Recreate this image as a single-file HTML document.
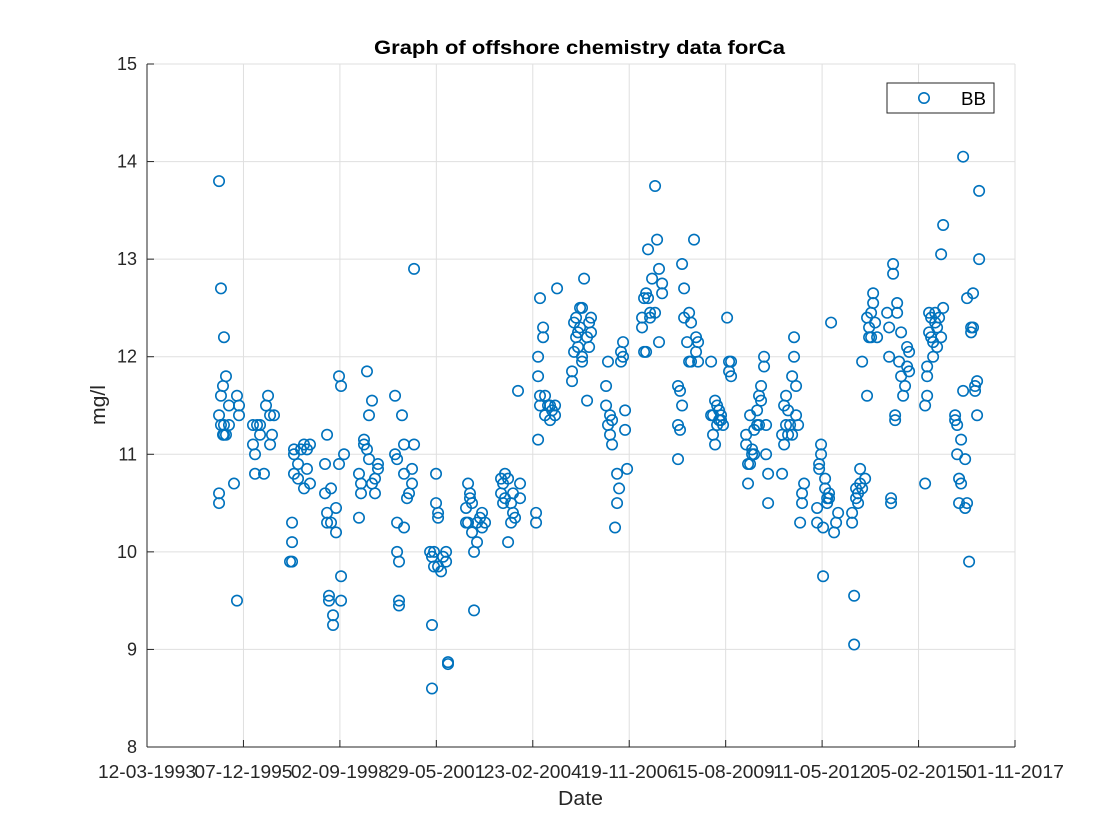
<!DOCTYPE html>
<html><head><meta charset="utf-8">
<style>
html,body{margin:0;padding:0;background:#fff;}
svg{display:block;font-family:"Liberation Sans",Arial,sans-serif;}
</style></head>
<body>
<svg id="chart" width="1120" height="840" viewBox="0 0 1120 840">
  <rect x="0" y="0" width="1120" height="840" fill="#fff"/>
  <rect x="147" y="64" width="868" height="683" fill="#fff"/>
  <g id="grid"></g>
  <g id="axes"></g>
  <g id="marks"></g>
  <text x="374" y="54" font-size="19" font-weight="bold" fill="#000" textLength="411" lengthAdjust="spacingAndGlyphs">Graph of offshore chemistry data forCa</text>
  <text x="558" y="805" font-size="20" fill="#262626" textLength="45" lengthAdjust="spacingAndGlyphs">Date</text>
  <text transform="translate(105,425) rotate(-90)" font-size="20" fill="#262626" textLength="40" lengthAdjust="spacingAndGlyphs">mg/l</text>
  <g>
    <rect x="887" y="83" width="107" height="30" fill="#fff" stroke="#262626" stroke-width="1"/>
    <circle cx="924" cy="98" r="5.2" fill="none" stroke="#0072BD" stroke-width="1.6"/>
    <text x="961" y="105" font-size="18" fill="#000" textLength="25" lengthAdjust="spacingAndGlyphs">BB</text>
  </g>
</svg>
<script>
// Days since 12-03-1993 for each sample
const sampleDays = [
747,747,747,747,767,767,767,788,788,798,798,798,819,819,850,850,902,933,933,954,954,
1099,1099,1120,1120,1141,1172,1172,1213,1234,1255,1276,1276,1296,1317,
1483,1504,1504,1504,1524,1524,1524,1566,1566,1597,1628,1628,1659,1659,1690,1690,
1846,1846,1867,1867,1867,1887,1887,1908,1908,1929,1929,1960,1960,1991,1991,2012,2012,2012,2043,
2198,2198,2219,2219,2250,2250,2281,2281,2302,2302,2333,2333,2364,2364,2395,2395,
2572,2572,2593,2593,2593,2613,2613,2613,2644,2665,2665,2665,2696,2717,2748,2748,2769,2769,
2935,2955,2955,2955,2976,2976,2997,2997,3018,3018,3018,3049,3070,3101,3101,3121,3121,
3308,3308,3329,3329,3349,3349,3370,3370,3391,3391,3422,3422,3453,3474,3474,3505,
3671,3671,3692,3692,3712,3712,3744,3744,3775,3775,3795,3795,3816,3847,3868,3868,
4034,4034,4055,4055,4055,4075,4075,4075,4107,4107,4127,4127,4158,4179,4179,4200,4231,4231,4252,
4407,4407,4428,4428,4449,4449,4469,4469,4490,4490,4511,4511,4511,4532,4563,4563,4584,4584,4604,4604,
4760,4760,4780,4780,4801,4801,4822,4822,4853,4874,4874,4895,4915,4915,4936,4936,4957,4957,4978,
5133,5133,5154,5154,5175,5175,5195,5195,5216,5216,5237,5268,5268,5289,5309,5309,5341,5341,
5506,5506,5506,5527,5527,5548,5548,5569,5569,5600,5621,5621,5641,5641,5672,5693,5693,5714,5714,
5849,5849,5869,5869,5890,5890,5911,5911,5932,5932,5952,5952,5973,6015,6035,6035,6056,6056,
6212,6212,6232,6232,6253,6253,6274,6274,6295,6295,6326,6326,6346,6346,6367,6367,6398,6398,6419,6419,6440,6440,
6585,6585,6606,6606,6626,6626,6647,6647,6668,6689,6689,6709,6709,6730,6730,6751,6772,6792,6792,6813,
6948,6948,6969,6969,6989,6989,7010,7010,7031,7031,7052,7052,7072,7072,7093,7124,7145,7166,
7311,7311,7332,7332,7352,7352,7373,7373,7394,7394,7415,7415,7446,7466,7466,7487,7487,7508,7508,7529,7529,7549,7570,
7674,7695,7695,7715,7715,7736,7736,7757,7757,7778,7778,7798,7819,7819,7840,7860,7881,7881,7902,7902,
8068,8068,8089,8089,8089,8109,8109,8130,8130,8151,8151,8172,8172,8192,8192,8213,8234,8234,8255,8255,
8379,8379,8400,8400,8420,8420,8441,8441,8462,8462,8483,8483,8503,8503,8524,8545,8545,8565,8565,8586,8586,8607,8607,8628,8628
];
// Ca concentration (mg/l)
const caValues = [
13.8,10.5,10.6,11.4,12.7,11.6,11.3,11.7,11.2,12.2,11.3,11.2,11.8,11.2,11.3,11.5,10.7,11.6,9.5,11.5,11.4,
11.1,11.3,11.0,10.8,11.3,11.3,11.2,10.8,11.5,11.6,11.4,11.1,11.2,11.4,
9.9,10.1,10.3,9.9,11.05,11.0,10.8,10.9,10.75,11.05,11.1,10.65,11.05,10.85,11.1,10.7,
10.6,10.9,11.2,10.4,10.3,9.55,9.5,10.65,10.3,9.35,9.25,10.45,10.2,11.8,10.9,11.7,9.75,9.5,11.0,
10.8,10.35,10.7,10.6,11.1,11.15,11.85,11.05,11.4,10.95,11.55,10.7,10.6,10.75,10.9,10.85,
11.6,11.0,10.3,10.95,10.0,9.5,9.45,9.9,11.4,10.25,11.1,10.8,10.55,10.6,10.85,10.7,12.9,11.1,
10.0,9.95,9.25,8.6,9.85,10.0,10.8,10.5,9.85,10.35,10.4,9.8,9.95,9.9,10.0,8.85,8.87,
10.3,10.45,10.7,10.3,10.55,10.6,10.5,10.2,9.4,10.0,10.3,10.1,10.35,10.4,10.25,10.3,
10.75,10.6,10.7,10.5,10.8,10.55,10.75,10.1,10.3,10.5,10.6,10.4,10.35,11.65,10.7,10.55,
10.4,10.3,12.0,11.8,11.15,12.6,11.6,11.5,12.2,12.3,11.6,11.4,11.5,11.5,11.35,11.45,11.5,11.4,12.7,
11.75,11.85,12.35,12.05,12.4,12.2,12.25,12.1,12.3,12.5,12.5,12.0,11.95,12.8,12.2,11.55,12.35,12.1,12.4,12.25,
11.7,11.5,11.95,11.3,11.4,11.2,11.35,11.1,10.25,10.8,10.5,10.65,12.05,11.95,12.15,12.0,11.45,11.25,10.85,
12.4,12.3,12.6,12.05,12.65,12.05,13.1,12.6,12.45,12.4,12.8,13.75,12.45,13.2,12.9,12.15,12.75,12.65,
11.7,11.3,10.95,11.65,11.25,12.95,11.5,12.7,12.4,12.15,12.45,11.95,12.35,11.95,13.2,12.2,12.05,12.15,11.95,
11.95,11.4,11.4,11.2,11.55,11.1,11.5,11.3,11.45,11.35,11.4,11.35,11.3,12.4,11.95,11.85,11.95,11.8,
11.2,11.1,10.7,10.9,11.4,10.9,11.05,11.0,11.25,11.0,11.45,11.3,11.6,11.3,11.7,11.55,12.0,11.9,11.3,11.0,10.8,10.5,
11.2,10.8,11.5,11.1,11.6,11.3,11.45,11.2,11.3,11.8,11.2,12.2,12.0,11.7,11.4,11.3,10.3,10.6,10.5,10.7,
10.45,10.3,10.9,10.85,11.1,11.0,9.75,10.25,10.75,10.65,10.55,10.5,10.55,10.6,12.35,10.2,10.3,10.4,
10.3,10.4,9.55,9.05,10.55,10.65,10.5,10.6,10.85,10.7,11.95,10.65,10.75,11.6,12.4,12.3,12.2,12.45,12.2,12.65,12.55,12.35,12.2,
12.45,12.3,12.0,10.5,10.55,12.85,12.95,11.35,11.4,12.55,12.45,11.95,12.25,11.8,11.6,11.7,12.1,11.9,12.05,11.85,
11.5,10.7,11.9,11.8,11.6,12.45,12.25,12.4,12.2,12.0,12.15,12.45,12.35,12.3,12.1,12.4,13.05,12.2,13.35,12.5,
11.4,11.35,11.3,11.0,10.75,10.5,11.15,10.7,14.05,11.65,10.95,10.45,12.6,10.5,9.9,12.3,12.25,12.65,12.3,11.7,11.65,11.4,11.75,13.7,13.0
];
const xTickLabels = ["12-03-1993","07-12-1995","02-09-1998","29-05-2001","23-02-2004","19-11-2006","15-08-2009","11-05-2012","05-02-2015","01-11-2017"];
const xTickDays = [0,1000,2000,3000,4000,5000,6000,7000,8000,9000];
const yTicks = [8,9,10,11,12,13,14,15];

const NS = "http://www.w3.org/2000/svg";
const L = 147, R = 1015, T = 64, B = 747;
const xMin = 0, xMax = 9000, yMin = 8, yMax = 15;
function xScale(d){ return L + (d - xMin) / (xMax - xMin) * (R - L); }
function yScale(v){ return B - (v - yMin) / (yMax - yMin) * (B - T); }
function mk(tag, attrs, parent){
  const e = document.createElementNS(NS, tag);
  for (const k in attrs) e.setAttribute(k, attrs[k]);
  parent.appendChild(e);
  return e;
}
const grid = document.getElementById("grid");
const axes = document.getElementById("axes");
const marks = document.getElementById("marks");

xTickDays.forEach((d, i) => {
  const x = xScale(d);
  const g = mk("line", {x1:x, x2:x, y1:T, y2:B, stroke:"#dfdfdf", "stroke-width":1}, grid);
  
  
  const t = mk("line", {x1:x, x2:x, y1:B, y2:B-7, stroke:"#262626", "stroke-width":1}, axes);
  
  
  const lb = mk("text", {x:x-49, y:778, "font-size":18, fill:"#262626", textLength:98, lengthAdjust:"spacingAndGlyphs"}, axes);
  lb.textContent = xTickLabels[i];
  
  
});
yTicks.forEach(v => {
  const y = yScale(v);
  const g = mk("line", {x1:L, x2:R, y1:y, y2:y, stroke:"#dfdfdf", "stroke-width":1}, grid);
  
  
  const t = mk("line", {x1:L, x2:L+7, y1:y, y2:y, stroke:"#262626", "stroke-width":1}, axes);
  
  
  const lb = mk("text", {x:137, y:y+6, "text-anchor":"end", "font-size":18, fill:"#262626"}, axes);
  lb.textContent = String(v);
  
  
});
const xa = mk("line", {x1:L, x2:R, y1:B, y2:B, stroke:"#262626", "stroke-width":1}, axes);


const ya = mk("line", {x1:L, x2:L, y1:T, y2:B, stroke:"#262626", "stroke-width":1}, axes);



for (let i = 0; i < caValues.length; i++) {
  const c = mk("circle", {cx:xScale(sampleDays[i]), cy:yScale(caValues[i]), r:5.2, fill:"none", stroke:"#0072BD", "stroke-width":1.6}, marks);
  
  
}
</script>
</body></html>
